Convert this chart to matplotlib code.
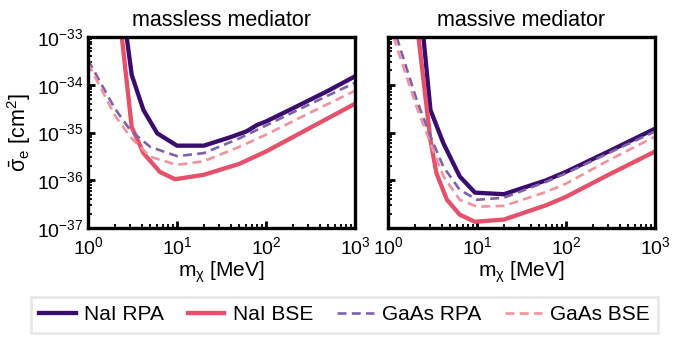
import matplotlib
matplotlib.use("Agg")
import matplotlib.pyplot as plt
import numpy as np

# --- data (m_chi in MeV, sigma_e in cm^2) ---
# massless mediator
m_nai_rpa_0 = [2.72, 3.1, 4.2, 6.0, 10, 20, 40, 60, 80, 100, 200, 500, 1000]
s_nai_rpa_0 = [1e-33, 1.6e-34, 2.95e-35, 9.6e-36, 5.3e-36, 5.3e-36, 8e-36,
               1.05e-35, 1.45e-35, 1.7e-35, 3.2e-35, 7.5e-35, 1.5e-34]
m_nai_bse_0 = [2.4, 3.1, 4.2, 6.4, 9.5, 20, 50, 100, 300, 1000]
s_nai_bse_0 = [1e-33, 1.3e-35, 3.7e-36, 1.5e-36, 1.05e-36, 1.3e-36,
               2.2e-36, 4.0e-36, 1.2e-35, 4.0e-35]
m_gaas_rpa_0 = [1, 2, 3, 5, 10, 20, 50, 100, 300, 1000]
s_gaas_rpa_0 = [3.3e-34, 3.2e-35, 1.1e-35, 5e-36, 3.2e-36, 3.7e-36,
                7.5e-36, 1.4e-35, 3.8e-35, 1.1e-34]
m_gaas_bse_0 = [1, 2, 3, 5, 10, 20, 50, 100, 300, 1000]
s_gaas_bse_0 = [2.8e-34, 2.3e-35, 8e-36, 3.1e-36, 2.1e-36, 2.5e-36,
                5e-36, 9e-36, 2.5e-35, 7.5e-35]

# massive mediator
m_nai_rpa_1 = [2.5, 3.0, 4.2, 6.4, 9.5, 20, 60, 100, 300, 1000]
s_nai_rpa_1 = [1e-33, 2.95e-35, 5.9e-36, 1.2e-36, 5.5e-37, 5.1e-37,
               1.0e-36, 1.5e-36, 4e-36, 1.2e-35]
m_nai_bse_1 = [2.2, 3.0, 3.5, 4.6, 6.4, 9.5, 20, 60, 100, 300, 1000]
s_nai_bse_1 = [1e-33, 6.9e-36, 1.4e-36, 3.9e-37, 1.9e-37, 1.35e-37,
               1.5e-37, 3e-37, 4.5e-37, 1.3e-36, 4e-36]
m_gaas_rpa_1 = [1.25, 2.1, 3.0, 4.2, 6.4, 10, 20, 60, 100, 300, 1000]
s_gaas_rpa_1 = [1e-33, 4.8e-35, 8.2e-36, 1.9e-36, 6.3e-37, 3.9e-37,
                4.3e-37, 9.3e-37, 1.4e-36, 3.7e-36, 1.05e-35]
m_gaas_bse_1 = [1.15, 2.1, 3.0, 4.2, 6.4, 10, 20, 60, 100, 300, 1000]
s_gaas_bse_1 = [1e-33, 3.4e-35, 5.9e-36, 1.2e-36, 3.9e-37, 2.8e-37,
                2.9e-37, 5.7e-37, 8.5e-37, 2.6e-36, 8.2e-36]

titles = ["massless mediator", "massive mediator"]
labels = ["NaI RPA", "NaI BSE", "GaAs RPA", "GaAs BSE"]
colors = ["#3a0c6e", "#e5506a", "#7d62ab", "#f2929d"]
x_exps = [0, 1, 2, 3]
y_exps = [-37, -36, -35, -34, -33]

plt.rcParams["font.family"] = ["Liberation Sans", "DejaVu Sans"]
plt.rcParams["mathtext.fontset"] = "custom"
plt.rcParams["mathtext.rm"] = "Liberation Sans"
plt.rcParams["mathtext.it"] = "Liberation Sans:italic"
plt.rcParams["mathtext.default"] = "regular"
plt.rcParams["axes.unicode_minus"] = False


def pow_label(e):
    return r"10$^{\mathregular{%d}}$" % e


def plot_panel(ax, curves, title, ylabels=True):
    """Draw the four exclusion curves on one panel."""
    for (m, s), lab, c in zip(curves, labels, colors):
        if "NaI" in lab:
            ax.plot(m, s, "-", color=c, lw=3.1, label=lab)
        else:
            ax.plot(m, s, "--", color=c, lw=1.9, label=lab, dashes=(3.4, 2.0))
    ax.set_xscale("log")
    ax.set_yscale("log")
    ax.set_xlim(1, 1000)
    ax.set_ylim(1e-37, 1e-33)
    ax.set_title(title, fontsize=15.5, pad=8)
    ax.set_xlabel(r"m$_{\chi}$ [MeV]", fontsize=15, labelpad=1)
    for sp in ax.spines.values():
        sp.set_linewidth(2.4)
    ax.xaxis.set_minor_locator(
        matplotlib.ticker.LogLocator(subs=np.arange(2, 10), numticks=10))
    ax.yaxis.set_minor_locator(
        matplotlib.ticker.LogLocator(subs=np.arange(2, 10), numticks=10))
    ax.xaxis.set_minor_formatter(matplotlib.ticker.NullFormatter())
    ax.yaxis.set_minor_formatter(matplotlib.ticker.NullFormatter())
    ax.set_xticks([10.0 ** e for e in x_exps])
    ax.set_xticklabels([pow_label(e) for e in x_exps])
    ax.set_yticks([10.0 ** e for e in y_exps])
    if ylabels:
        ax.set_yticklabels([pow_label(e) for e in y_exps])
    else:
        ax.set_yticklabels([])
    ax.tick_params(which="both", direction="in", top=False, right=False,
                   labelsize=14)
    ax.tick_params(which="major", length=5, width=2)
    ax.tick_params(which="minor", length=3, width=1.3)
    ax.tick_params(axis="x", pad=6)
    ax.tick_params(axis="y", pad=3)


fig = plt.figure(figsize=(6.97, 3.37), dpi=100)
ax0 = fig.add_axes([88 / 697, 109 / 337, 267 / 697, 191 / 337])
ax1 = fig.add_axes([388 / 697, 109 / 337, 267 / 697, 191 / 337])

plot_panel(ax0, [(m_nai_rpa_0, s_nai_rpa_0), (m_nai_bse_0, s_nai_bse_0),
                 (m_gaas_rpa_0, s_gaas_rpa_0), (m_gaas_bse_0, s_gaas_bse_0)],
           titles[0])
plot_panel(ax1, [(m_nai_rpa_1, s_nai_rpa_1), (m_nai_bse_1, s_nai_bse_1),
                 (m_gaas_rpa_1, s_gaas_rpa_1), (m_gaas_bse_1, s_gaas_bse_1)],
           titles[1], ylabels=False)
ax0.set_ylabel(r"$\bar{\sigma}_e$ [cm$^2$]", fontsize=15.5, labelpad=3)

handles, labs = ax0.get_legend_handles_labels()
leg = fig.legend(handles, labs, ncol=4, loc="center",
                 bbox_to_anchor=(344.5 / 697, 22 / 337), fontsize=15,
                 frameon=True, fancybox=False, handlelength=1.75,
                 handletextpad=0.4, columnspacing=1.15,
                 borderpad=0.4, borderaxespad=0)
leg.get_frame().set_edgecolor("#e4e4e4")
leg.get_frame().set_linewidth(2)

fig.savefig("out.png", dpi=100)
